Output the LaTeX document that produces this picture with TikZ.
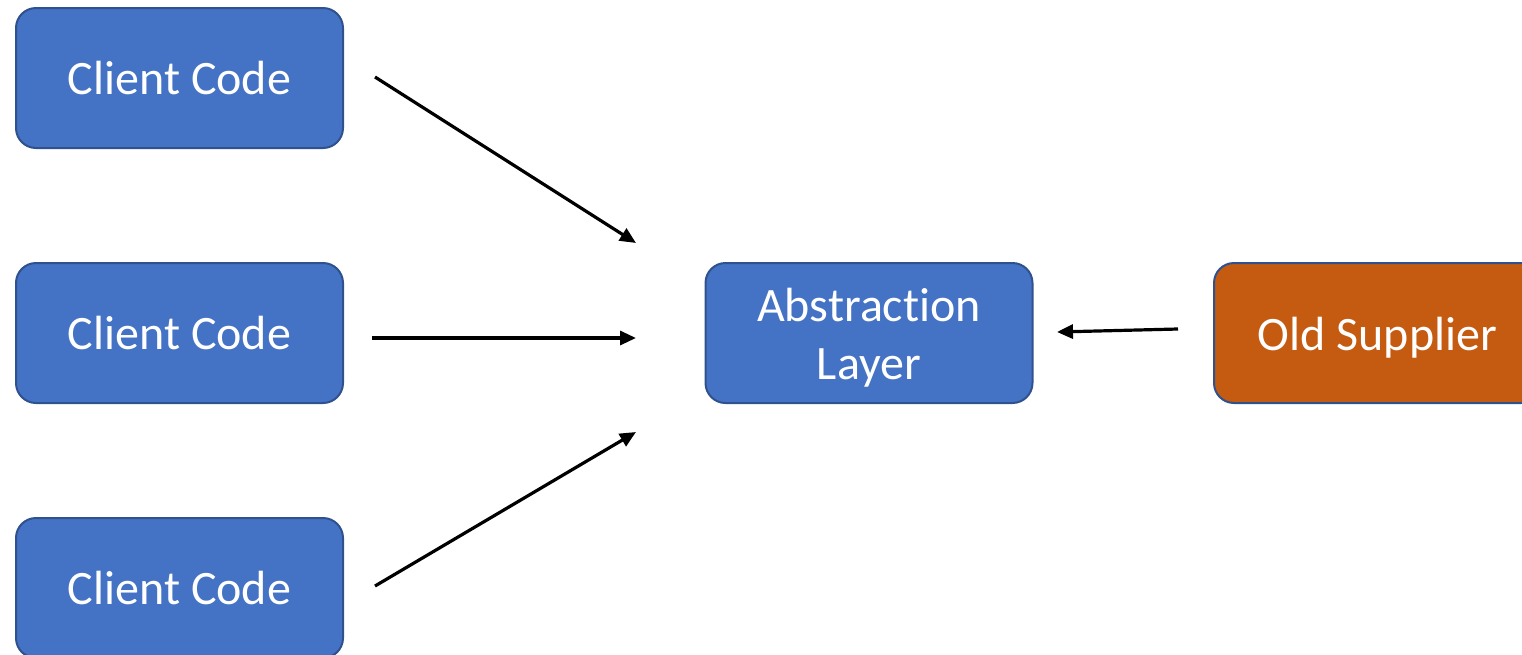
\documentclass[tikz,border=0pt]{standalone}
\usepackage{fontspec}
\setmainfont{Carlito}[Ligatures=NoCommon]
\usetikzlibrary{arrows.meta}
\definecolor{boxblue}{HTML}{4472C4}
\definecolor{boxedge}{HTML}{2F528F}
\definecolor{boxorange}{HTML}{C55A11}
\begin{document}
\begin{tikzpicture}[x=0.5pt,y=-0.5pt,line join=round,
	font=\fontsize{24}{29}\selectfont,
	block/.style={draw=boxedge,line width=1pt,fill=boxblue,rounded corners=10pt,text=white,
		minimum width=163.5pt,minimum height=70pt,align=center,inner sep=0pt,
		text height=16pt,text depth=0pt},
	link/.style={line width=1.6pt,-{Triangle[length=8pt,width=7pt]}}]
	\useasboundingbox (0,0) rectangle (1522,654);
	\clip (0,0) rectangle (1522,654);
	\node[block] (c1) at (179.5,78) {Client Code};
	\node[block] (c2) at (179.5,333) {Client Code};
	\node[block] (c3) at (179.5,588) {Client Code};
	\node[block,text height=46pt] (abs) at (869,333) {Abstraction\\Layer};
	\node[block,fill=boxorange,text height=17pt] (old) at (1377.5,333) {Old Supplier};
	% arrow ends
	\coordinate (e1) at (636,243);
	\coordinate (e2) at (636,338);
	\coordinate (e3) at (636,432);
	\coordinate (s1) at (375,77);
	\coordinate (s2) at (372,338);
	\coordinate (s3) at (375,586);
	\coordinate (e4) at (1057,332);
	\coordinate (s4) at (1178,329);
	\draw[link] (s1)--(e1);
	\draw[link] (s2)--(e2);
	\draw[link] (s3)--(e3);
	\draw[link] (s4)--(e4);
\end{tikzpicture}
\end{document}
